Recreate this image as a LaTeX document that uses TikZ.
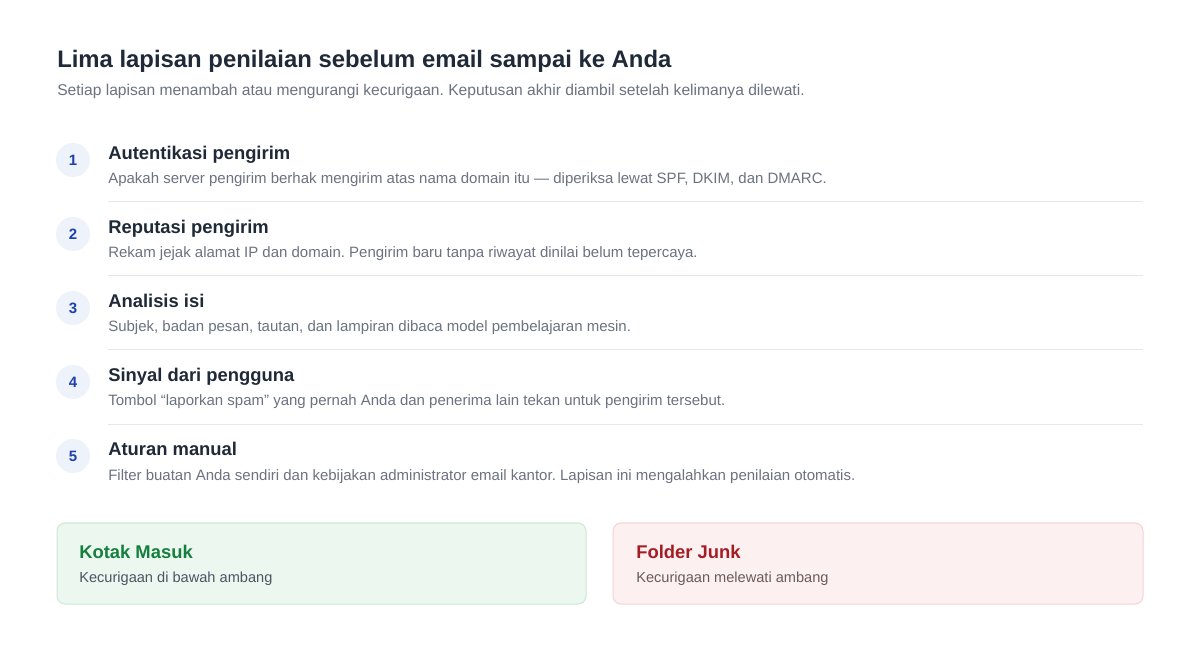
\documentclass[tikz,border=0pt]{standalone}
\usepackage[rgb]{xcolor}
\usepackage{fontspec}
\setmainfont{Liberation Sans}
\usepackage{tikz}
\frenchspacing

\definecolor{inkdark}{HTML}{1F2937}
\definecolor{inkgray}{HTML}{6B7280}
\definecolor{ruleline}{HTML}{E5E7EB}
\definecolor{badgefill}{HTML}{EEF2FB}
\definecolor{badgeink}{HTML}{1E40AF}
\definecolor{okfill}{HTML}{ECF7EF}
\definecolor{okdraw}{HTML}{CDE8D5}
\definecolor{okink}{HTML}{15803D}
\definecolor{okgray}{HTML}{4B5563}
\definecolor{junkfill}{HTML}{FDF0F0}
\definecolor{junkdraw}{HTML}{F3D3D6}
\definecolor{junkink}{HTML}{A51D24}
\definecolor{junkgray}{HTML}{6B5B60}

\tikzset{
  titletext/.style={anchor=base west, inner sep=0pt, text=inkdark, font=\fontsize{17.9}{21}\selectfont\bfseries},
  subtext/.style={anchor=base west, inner sep=0pt, text=inkgray, font=\fontsize{11.25}{14}\selectfont},
  headtext/.style={anchor=base west, inner sep=0pt, text=inkdark, font=\fontsize{13.8}{16}\selectfont\bfseries},
  notetext/.style={anchor=base west, inner sep=0pt, font=\fontsize{10.95}{13}\selectfont},
  badge/.style={circle, fill=badgefill, minimum size=25.5pt, inner sep=0pt, text=badgeink, font=\fontsize{11.25}{14}\selectfont\bfseries},
  sepline/.style={draw=ruleline, line width=0.75pt},
}

\begin{document}
\begin{tikzpicture}[x=0.75pt, y=-0.75pt]

\useasboundingbox[fill=white] (0,0) rectangle (1200,648);

% Heading
\path
(57, 68) node[titletext] (title) {Lima lapisan penilaian sebelum email sampai ke Anda}
(57, 96) node[subtext, font=\fontsize{11.7}{14}\selectfont] (intro) {Setiap lapisan menambah atau mengurangi kecurigaan. Keputusan akhir diambil setelah kelimanya dilewati.};


% Layer 1
\path
(73, 160) node[badge] (b1) {1}
(108, 160) node[headtext] (h1) {Autentikasi pengirim}
(108, 184) node[subtext] (d1) {Apakah server pengirim berhak mengirim atas nama domain itu — diperiksa lewat SPF, DKIM, dan DMARC.};

\coordinate (s1a) at (108, 202);
\coordinate (s1b) at (1143, 202);
\draw[sepline] (s1a) -- (s1b);


% Layer 2
\path
(73, 234) node[badge] (b2) {2}
(108, 234) node[headtext] (h2) {Reputasi pengirim}
(108, 258) node[subtext] (d2) {Rekam jejak alamat IP dan domain. Pengirim baru tanpa riwayat dinilai belum tepercaya.};

\coordinate (s2a) at (108, 276);
\coordinate (s2b) at (1143, 276);
\draw[sepline] (s2a) -- (s2b);


% Layer 3
\path
(73, 308) node[badge] (b3) {3}
(108, 308) node[headtext] (h3) {Analisis isi}
(108, 332) node[subtext] (d3) {Subjek, badan pesan, tautan, dan lampiran dibaca model pembelajaran mesin.};

\coordinate (s3a) at (108, 350);
\coordinate (s3b) at (1143, 350);
\draw[sepline] (s3a) -- (s3b);


% Layer 4
\path
(73, 382) node[badge] (b4) {4}
(108, 382) node[headtext] (h4) {Sinyal dari pengguna}
(108, 406) node[subtext] (d4) {Tombol “laporkan spam” yang pernah Anda dan penerima lain tekan untuk pengirim tersebut.};

\coordinate (s4a) at (108, 425);
\coordinate (s4b) at (1143, 425);
\draw[sepline] (s4a) -- (s4b);


% Layer 5
\path
(73, 456) node[badge] (b5) {5}
(108, 456) node[headtext] (h5) {Aturan manual}
(108, 480) node[subtext] (d5) {Filter buatan Anda sendiri dan kebijakan administrator email kantor. Lapisan ini mengalahkan penilaian otomatis.};


% Inbox result
\filldraw[fill=okfill, draw=okdraw, line width=0.75pt, rounded corners=6pt] (57, 523) rectangle (586, 604);
\path
(79, 558) node[headtext, text=okink] (inbox) {Kotak Masuk}
(79, 582) node[notetext, text=okgray] (inboxnote) {Kecurigaan di bawah ambang};


% Junk result
\filldraw[fill=junkfill, draw=junkdraw, line width=0.75pt, rounded corners=6pt] (613, 523) rectangle (1143, 604);
\path
(636, 558) node[headtext, text=junkink] (junk) {Folder Junk}
(636, 582) node[notetext, text=junkgray] (junknote) {Kecurigaan melewati ambang};

\end{tikzpicture}
\end{document}
